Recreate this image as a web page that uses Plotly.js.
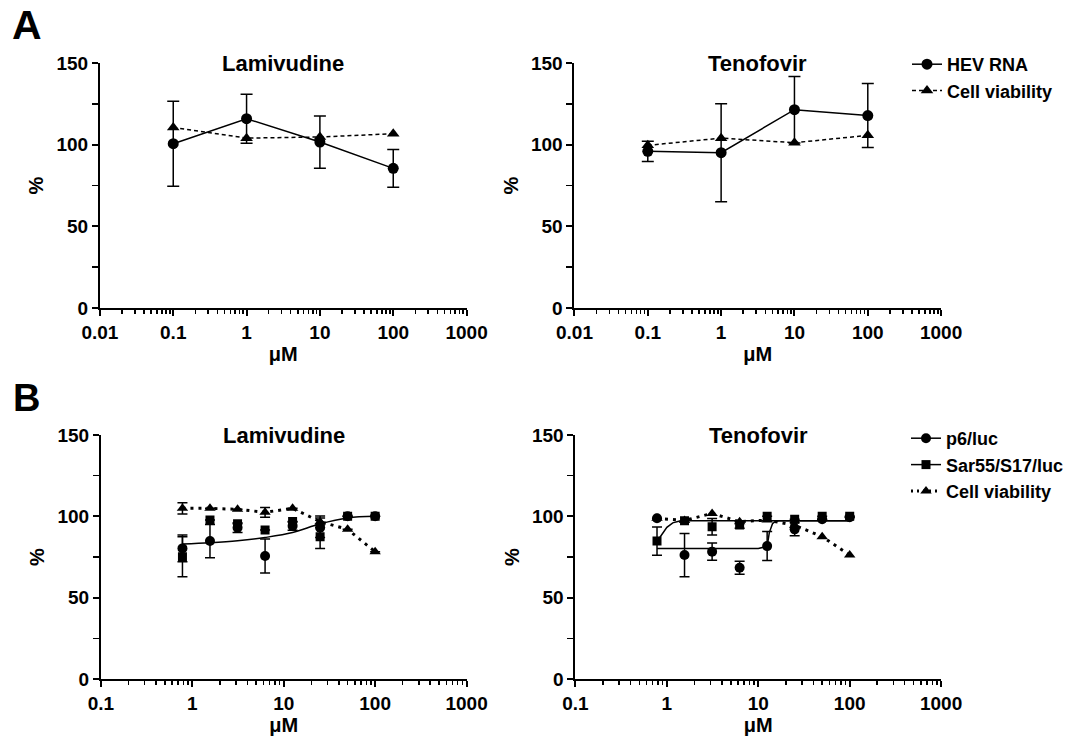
<!DOCTYPE html>
<html>
<head>
<meta charset="utf-8">
<script src="https://cdn.plot.ly/plotly-3.0.1.min.js"></script>
<style>html,body{margin:0;padding:0;background:#fff}#chart{width:1069px;height:736px}</style>
</head>
<body>
<div id="chart"></div>
<script>
// ---------- Panel A data ----------
const concA = [0.1, 1, 10, 100];
const lamHev = [100.6, 115.9, 101.6, 85.5];
const lamHevErr = [26, 15, 16, 11.5];
const lamVia = [110.5, 104, 104.7, 106.7];
const tenHev = [95.9, 95.1, 121.4, 117.8];
const tenHevErr = [6.2, 30, 20.4, 19.6];
const tenVia = [99.6, 104, 101.2, 105.7];

// ---------- Panel B data ----------
const concB = [0.78, 1.56, 3.125, 6.25, 12.5, 25, 50, 100];
const lamP6 = [80.3, 84.8, 93, 75.6, 94, 93, 100, 100];
const lamP6Err = [8.2, 10.2, 3, 10.4, 2.5, 6, 0, 0];
const lamSar = [75.2, 97.7, 95.5, 91.6, 96.8, 87.5, 100, 100];
const lamSarErr = [12.3, 0, 0, 0, 0, 7.2, 0, 0];
const lamViaB = [104.9, 104.9, 104.3, 102.5, 104.9, 96.7, 92, 78.2];
const lamViaBErr = [3.5, 0, 0, 3, 0, 3.5, 0, 0];
const lamFitX = [0.78, 1.56, 3.125, 6.25, 12.5, 25, 50, 100];
const lamFitY = [83, 83.8, 85, 87, 90, 95.4, 99, 100];

const tenP6 = [98.8, 76.2, 78.3, 68.4, 81.7, 92, 98.2, 99.5];
const tenP6Err = [0, 13.3, 5.3, 4, 8.9, 4, 0, 0];
const tenSar = [84.8, 97.3, 93.6, 94.7, 100, 98.2, 100, 100];
const tenSarErr = [8.7, 0, 5, 2, 0, 0, 0, 0];
const tenViaB = [98.8, 97.5, 101.8, 96.7, 97.7, 94.5, 87.5, 76.2];
const tenSarFitX = [0.78, 0.9, 1.0, 1.16, 1.35, 1.56, 3, 10, 30, 100];
const tenSarFitY = [84.5, 89.5, 93.2, 96, 97, 97.3, 97.3, 97.3, 97.3, 97.3];
const tenP6FitX = [0.78, 3, 10, 12.5, 13.2, 14.3, 15.5, 17, 30, 100];
const tenP6FitY = [80.3, 80.3, 80.3, 81.5, 90, 95.5, 97, 97.3, 97.3, 97.3];

const yTicks = [0, 50, 100, 150];
const xTicksA = [0.01, 0.1, 1, 10, 100, 1000];
const xTicksALabels = ['0.01', '0.1', '1', '10', '100', '1000'];
const xTicksB = [0.1, 1, 10, 100, 1000];
const xTicksBLabels = ['0.1', '1', '10', '100', '1000'];

const FONT = 'Liberation Sans, Arial, Helvetica, sans-serif';
const W = 1069, H = 736;
const px = v => v / W;
const py = v => 1 - v / H;

function err(arr, w) {
  return {type: 'data', array: arr, visible: true, color: '#000', thickness: 1.5, width: w || 5};
}

const traces = [];
// Panel A left
traces.push({x: concA, y: lamHev, xaxis: 'x', yaxis: 'y', name: 'HEV RNA', mode: 'lines+markers',
  line: {color: '#000', width: 1.5}, marker: {symbol: 'circle', size: 11, color: '#000'},
  error_y: err(lamHevErr, 6), legend: 'legend'});
traces.push({x: concA, y: lamVia, xaxis: 'x', yaxis: 'y', name: 'Cell viability', mode: 'lines+markers',
  line: {color: '#000', width: 1.5, dash: '4px,3px'}, marker: {symbol: 'triangle-up', size: 11, color: '#000'},
  legend: 'legend'});
// Panel A right
traces.push({x: concA, y: tenHev, xaxis: 'x2', yaxis: 'y2', name: 'HEV RNA', mode: 'lines+markers', showlegend: false,
  line: {color: '#000', width: 1.5}, marker: {symbol: 'circle', size: 11, color: '#000'},
  error_y: err(tenHevErr, 6)});
traces.push({x: concA, y: tenVia, xaxis: 'x2', yaxis: 'y2', name: 'Cell viability', mode: 'lines+markers', showlegend: false,
  line: {color: '#000', width: 1.5, dash: '4px,3px'}, marker: {symbol: 'triangle-up', size: 11, color: '#000'}});

// Panel B left
traces.push({x: lamFitX, y: lamFitY, xaxis: 'x3', yaxis: 'y3', mode: 'lines', showlegend: false,
  line: {color: '#000', width: 1.5, shape: 'spline'}});
traces.push({x: concB, y: lamViaB, xaxis: 'x3', yaxis: 'y3', name: 'Cell viability', mode: 'lines+markers', showlegend: false,
  line: {color: '#000', width: 3, dash: '3px,5px'}, marker: {symbol: 'triangle-up', size: 10, color: '#000'},
  error_y: err(lamViaBErr, 5)});
traces.push({x: concB, y: lamP6, xaxis: 'x3', yaxis: 'y3', mode: 'markers', showlegend: false,
  marker: {symbol: 'circle', size: 10, color: '#000'}, error_y: err(lamP6Err, 5)});
traces.push({x: concB, y: lamSar, xaxis: 'x3', yaxis: 'y3', mode: 'markers', showlegend: false,
  marker: {symbol: 'square', size: 9, color: '#000'}, error_y: err(lamSarErr, 5)});

// Panel B right
traces.push({x: tenSarFitX, y: tenSarFitY, xaxis: 'x4', yaxis: 'y4', mode: 'lines', showlegend: false,
  line: {color: '#000', width: 1.5}});
traces.push({x: tenP6FitX, y: tenP6FitY, xaxis: 'x4', yaxis: 'y4', mode: 'lines', showlegend: false,
  line: {color: '#000', width: 1.5}});
traces.push({x: concB, y: tenViaB, xaxis: 'x4', yaxis: 'y4', mode: 'lines+markers', showlegend: false,
  line: {color: '#000', width: 3, dash: '3px,5px'}, marker: {symbol: 'triangle-up', size: 10, color: '#000'}});
traces.push({x: concB, y: tenP6, xaxis: 'x4', yaxis: 'y4', mode: 'markers', showlegend: false,
  marker: {symbol: 'circle', size: 10, color: '#000'}, error_y: err(tenP6Err, 5)});
traces.push({x: concB, y: tenSar, xaxis: 'x4', yaxis: 'y4', mode: 'markers', showlegend: false,
  marker: {symbol: 'square', size: 9, color: '#000'}, error_y: err(tenSarErr, 5)});

// Legend entries for panel B (no data of their own)
traces.push({x: [null], y: [null], xaxis: 'x4', yaxis: 'y4', name: 'p6/luc', mode: 'lines+markers', legend: 'legend2',
  line: {color: '#000', width: 1.5}, marker: {symbol: 'circle', size: 10, color: '#000'}});
traces.push({x: [null], y: [null], xaxis: 'x4', yaxis: 'y4', name: 'Sar55/S17/luc', mode: 'lines+markers', legend: 'legend2',
  line: {color: '#000', width: 1.5}, marker: {symbol: 'square', size: 9, color: '#000'}});
traces.push({x: [null], y: [null], xaxis: 'x4', yaxis: 'y4', name: 'Cell viability', mode: 'lines+markers', legend: 'legend2',
  line: {color: '#000', width: 3, dash: '2px,4px'}, marker: {symbol: 'triangle-up', size: 10, color: '#000'}});

function xax(domain, range, tv, tt, anchor) {
  return {
    type: 'log', domain: domain, range: range, anchor: anchor,
    tickvals: tv, ticktext: tt, ticks: 'outside', ticklen: 6, tickwidth: 2, tickcolor: '#000',
    minor: {ticks: 'outside', ticklen: 3.5, tickwidth: 1.5, tickcolor: '#000', dtick: 'D1', showgrid: false},
    showline: true, linewidth: 2, linecolor: '#000', showgrid: false, zeroline: false,
    tickfont: {family: FONT, size: 19, color: '#000', weight: 'bold'},
    title: {text: 'μM', font: {family: FONT, size: 20, color: '#000', weight: 'bold'}, standoff: 5},
    fixedrange: true
  };
}
function yax(domain, anchor) {
  return {
    domain: domain, range: [0, 150], anchor: anchor,
    tickvals: yTicks, ticks: 'outside', ticklen: 6, tickwidth: 2, tickcolor: '#000',
    minor: {ticks: 'outside', ticklen: 6, tickwidth: 1.5, tickcolor: '#000', dtick: 25, showgrid: false},
    showline: true, linewidth: 2, linecolor: '#000', showgrid: false, zeroline: false,
    tickfont: {family: FONT, size: 19, color: '#000', weight: 'bold'},
    title: {text: '%', font: {family: FONT, size: 20, color: '#000', weight: 'bold'}, standoff: 7},
    fixedrange: true
  };
}

const dAx1 = [px(100), px(467)], dAx2 = [px(575), px(942)];
const dBx1 = [px(101), px(467)], dBx2 = [px(576), px(942)];
const dAy = [py(308), py(63)], dBy = [py(679), py(435)];

const titleFont = {family: FONT, size: 22, color: '#000', weight: 'bold'};
const layout = {
  width: W, height: H,
  margin: {l: 0, r: 0, t: 0, b: 0},
  paper_bgcolor: '#fff', plot_bgcolor: '#fff',
  xaxis: xax(dAx1, [-2, 3], xTicksA, xTicksALabels, 'y'),
  yaxis: yax(dAy, 'x'),
  xaxis2: xax(dAx2, [-2, 3], xTicksA, xTicksALabels, 'y2'),
  yaxis2: yax(dAy, 'x2'),
  xaxis3: xax(dBx1, [-1, 3], xTicksB, xTicksBLabels, 'y3'),
  yaxis3: yax(dBy, 'x3'),
  xaxis4: xax(dBx2, [-1, 3], xTicksB, xTicksBLabels, 'y4'),
  yaxis4: yax(dBy, 'x4'),
  legend: {x: px(907), y: py(46), xanchor: 'left', yanchor: 'top', bgcolor: 'rgba(0,0,0,0)',
    font: {family: FONT, size: 18, color: '#000', weight: 'bold'}, itemwidth: 30, tracegroupgap: 0},
  legend2: {x: px(907), y: py(420), xanchor: 'left', yanchor: 'top', bgcolor: 'rgba(0,0,0,0)',
    font: {family: FONT, size: 18, color: '#000', weight: 'bold'}, itemwidth: 30, tracegroupgap: 0},
  annotations: [
    {text: 'Lamivudine', xref: 'paper', yref: 'paper', x: px(283), y: py(63), xanchor: 'center', yanchor: 'middle', showarrow: false, font: titleFont},
    {text: 'Tenofovir', xref: 'paper', yref: 'paper', x: px(758), y: py(63), xanchor: 'center', yanchor: 'middle', showarrow: false, font: titleFont},
    {text: 'Lamivudine', xref: 'paper', yref: 'paper', x: px(284), y: py(435), xanchor: 'center', yanchor: 'middle', showarrow: false, font: titleFont},
    {text: 'Tenofovir', xref: 'paper', yref: 'paper', x: px(759), y: py(435), xanchor: 'center', yanchor: 'middle', showarrow: false, font: titleFont},
    {text: 'A', xref: 'paper', yref: 'paper', x: px(10), y: py(25), xanchor: 'left', yanchor: 'middle', showarrow: false, font: {family: FONT, size: 41, color: '#000', weight: 'bold'}},
    {text: 'B', xref: 'paper', yref: 'paper', x: px(11), y: py(398), xanchor: 'left', yanchor: 'middle', showarrow: false, font: {family: FONT, size: 38, color: '#000', weight: 'bold'}}
  ]
};

Plotly.newPlot('chart', traces, layout, {displayModeBar: false, staticPlot: true});
</script>
</body>
</html>
